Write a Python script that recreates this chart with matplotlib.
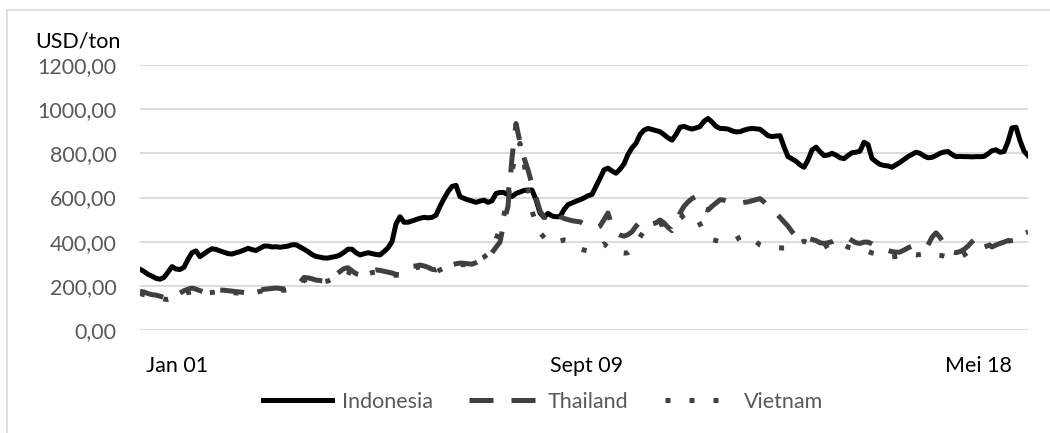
import matplotlib
matplotlib.use("Agg")
import matplotlib.pyplot as plt
from matplotlib.patches import Rectangle
from matplotlib.ticker import FuncFormatter

# monthly export prices, USD/ton
indonesia = [
    275, 265, 252, 244, 234, 230, 238, 262, 287, 276, 274, 284, 320, 350, 358, 332,
    345, 358, 368, 365, 358, 352, 346, 344, 350, 355, 362, 370, 364, 360, 370, 380,
    380, 376, 377, 375, 377, 380, 386, 386, 376, 366, 355, 342, 333, 330, 326, 326,
    330, 333, 340, 352, 366, 366, 350, 340, 345, 350, 346, 342, 340, 355, 372, 400,
    480, 513, 488, 488, 494, 500, 506, 510, 508, 510, 520, 560, 595, 626, 650, 655,
    604, 596, 589, 584, 578, 584, 588, 578, 585, 618, 623, 622, 612, 604, 618, 625,
    632, 634, 634, 590, 530, 510, 528, 516, 513, 513, 545, 568, 575, 583, 590, 598,
    608, 614, 650, 687, 725, 733, 720, 710, 728, 752, 795, 825, 845, 885, 905, 913,
    908, 903, 898, 885, 870, 860, 885, 918, 922, 915, 910, 915, 921, 945, 958, 942,
    922, 913, 912, 910, 902, 897, 898, 905, 910, 913, 911, 909, 895, 880, 876, 878,
    880, 830, 785, 775, 764, 748, 737, 770, 815, 828, 808, 790, 792, 800, 792, 780,
    776, 790, 803, 805, 810, 850, 840, 777, 762, 750, 745, 743, 737, 748, 759, 772,
    785, 795, 805, 800, 788, 780, 782, 790, 800, 806, 808, 795, 785, 786, 785, 785,
    784, 785, 785, 786, 798, 812, 816, 805, 808, 853, 915, 918, 858, 810, 790,
]
thailand = [
    175, 172, 165, 160, 158, 153, 148, 145, 150, 160, 167, 178, 185, 190, 185, 178,
    172, 175, 178, 180, 181, 180, 178, 176, 174, 172, 170, 168, 167, 175, 181, 184,
    186, 188, 190, 188, 186, 188, 190, 195, 215, 238, 236, 232, 226, 224, 222, 225,
    235, 250, 265, 278, 282, 268, 255, 250, 255, 262, 268, 272, 270, 266, 262, 258,
    252, 250, 262, 285, 288, 290, 294, 290, 284, 275, 272, 280, 285, 290, 295, 300,
    303, 302, 300, 298, 305, 315, 322, 330, 350, 375, 398, 490, 560, 780, 935, 850,
    780, 725, 660, 600, 540, 510, 512, 528, 540, 515, 505, 500, 495, 492, 490, 480,
    472, 466, 460, 470, 500, 530, 470, 440, 430, 425, 432, 445, 470, 490, 500, 492,
    480, 485, 498, 485, 465, 450, 470, 530, 560, 580, 595, 605, 585, 548, 543, 560,
    575, 590, 588, 580, 578, 576, 575, 578, 580, 585, 590, 595, 580, 560, 545, 530,
    510, 490, 470, 445, 425, 421, 418, 415, 410, 405, 395, 392, 395, 400, 410, 418,
    420, 418, 405, 395, 392, 398, 398, 390, 380, 371, 365, 360, 355, 352, 353, 362,
    372, 380, 385, 380, 375, 385, 420, 440, 420, 390, 362, 355, 350, 355, 365, 380,
    400, 415, 420, 410, 390, 376, 385, 392, 398, 405, 410, 415, 425, 438, 444,
]
vietnam = [
    165, 160, 155, 150, 148, 145, 140, 138, 142, 150, 158, 165, 170, 172, 175, 172,
    170, 168, 170, 172, 175, 175, 173, 170, 168, 166, 165, 167, 168, 170, 175, 178,
    180, 182, 184, 182, 180, 183, 186, 190, 205, 225, 230, 228, 225, 220, 218, 222,
    230, 242, 255, 265, 262, 255, 250, 248, 250, 255, 260, 262, 260, 255, 252, 250,
    248, 249, 255, 270, 278, 282, 285, 275, 262, 258, 262, 272, 280, 285, 288, 290,
    295, 296, 295, 298, 310, 320, 330, 345, 370, 410, 460, 520, 620, 720, 800, 845,
    760, 640, 540, 480, 440, 420, 400, 390, 395, 402, 408, 405, 395, 380, 368, 362,
    358, 355, 360, 375, 390, 375, 355, 352, 350, 348, 350, 365, 390, 420, 450, 462,
    466, 470, 478, 480, 475, 478, 490, 505, 520, 530, 520, 512, 480, 440, 417, 410,
    405, 400, 396, 394, 400, 410, 420, 428, 430, 420, 400, 385, 378, 376, 374, 373,
    372, 371, 371, 375, 385, 395, 402, 395, 385, 376, 371, 375, 385, 395, 400, 395,
    385, 375, 371, 368, 365, 362, 356, 349, 346, 345, 342, 336, 331, 333, 336, 340,
    343, 342, 340, 342, 345, 350, 345, 340, 338, 335, 330, 327, 326, 330, 340, 352,
    360, 362, 368, 375, 382, 388, 392, 395, 398, 402, 405, 408, 410, 412, 415,
]
x_labels = ["Jan 01", "Sept 09", "Mei 18"]
x_label_pos = [9.25, 111.75, 209.5]
y_ticks = [0, 200, 400, 600, 800, 1000, 1200]

plt.rcParams['font.family'] = ['Lato', 'DejaVu Sans']

fig = plt.figure(figsize=(10.5, 4.33), dpi=100)
ax = fig.add_axes([140 / 1050, 1 - 330 / 433, 888 / 1050, 265 / 433])

months = list(range(len(indonesia)))
ax.plot(months, indonesia, color='black', lw=3.6, solid_joinstyle='round',
        label='Indonesia')
ax.plot(months, thailand, color='#404040', lw=3.6, dashes=(4.8, 3.6),
        dash_capstyle='butt', label='Thailand')
ax.plot(months, vietnam, color='#404040', lw=3.6, dashes=(1.0, 3.8),
        dash_capstyle='butt', label='Vietnam')

ax.set_xlim(0, len(indonesia) - 1)
ax.set_ylim(0, 1200)
ax.set_yticks(y_ticks)
ax.yaxis.set_major_formatter(FuncFormatter(lambda v, p: f"{v:.2f}".replace('.', ',')))
ax.set_xticks(x_label_pos)
ax.set_xticklabels(x_labels)
ax.tick_params(axis='y', length=0, pad=17, labelsize=15.5, labelcolor='#595959')
ax.tick_params(axis='x', length=0, pad=19, labelsize=15.5, labelcolor='black')
ax.grid(axis='y', color='#d9d9d9', lw=1.3)
ax.set_axisbelow(True)
for s in ax.spines.values():
    s.set_visible(False)

fig.text(35 / 1050, 1 - 42 / 433, 'USD/ton', fontsize=15.5, color='black',
         ha='left', va='center')

leg = fig.legend(loc='center', bbox_to_anchor=(543 / 1050, 1 - 402 / 433), ncol=3,
                 frameon=False, fontsize=15.5, handlelength=3.2, handletextpad=0.45,
                 columnspacing=1.7)
for t in leg.get_texts():
    t.set_color('#595959')

# chart area border
fig.patches.append(Rectangle((7 / 1050, -0.1), 1.2, 1 - 10 / 433 + 0.1,
                             transform=fig.transFigure, fill=False,
                             edgecolor='#d9d9d9', lw=1.2))

fig.savefig('out.png', dpi=100)
